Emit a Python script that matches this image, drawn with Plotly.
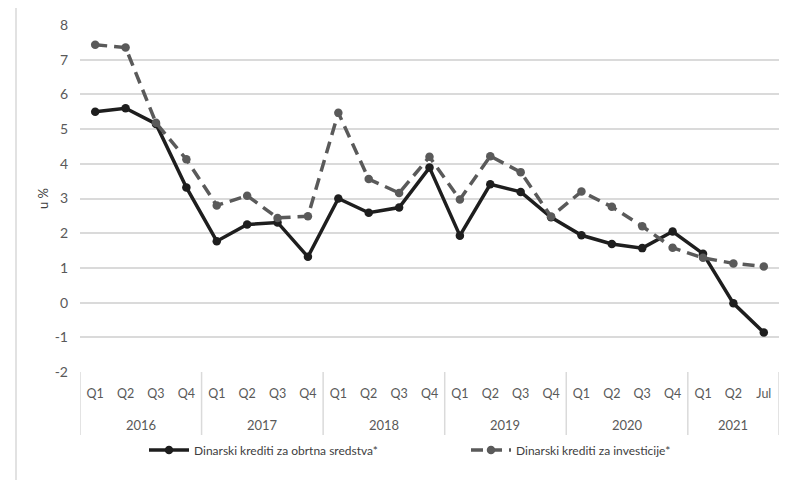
import plotly.graph_objects as go

# ---- data ----
years = ["2016", "2017", "2018", "2019", "2020", "2021"]
periods = [
    ["Q1", "Q2", "Q3", "Q4"],
    ["Q1", "Q2", "Q3", "Q4"],
    ["Q1", "Q2", "Q3", "Q4"],
    ["Q1", "Q2", "Q3", "Q4"],
    ["Q1", "Q2", "Q3", "Q4"],
    ["Q1", "Q2", "Jul"],
]
obrtna = [5.5, 5.6, 5.15, 3.32,
          1.77, 2.25, 2.31, 1.32,
          3.0, 2.59, 2.74, 3.89,
          1.93, 3.41, 3.19, 2.46,
          1.94, 1.69, 1.57, 2.05,
          1.41, -0.02, -0.86]
investicije = [7.43, 7.35, 5.18, 4.13,
               2.8, 3.08, 2.44, 2.49,
               5.47, 3.56, 3.16, 4.2,
               2.97, 4.22, 3.76, 2.48,
               3.2, 2.76, 2.2, 1.58,
               1.29, 1.13, 1.04]
name_obrtna = "Dinarski krediti za obrtna sredstva*"
name_invest = "Dinarski krediti za investicije*"
y_title = "u %"
y_tickvals = [-2, -1, 0, 1, 2, 3, 4, 5, 6, 7, 8]
y_ticktext = ["-2", "-1", "0", "1", "2", "3", "4", "5", "6", "7", "8"]

# ---- build category axis ----
cats, qlabels = [], []
for yr, ps in zip(years, periods):
    for p in ps:
        cats.append(f"{yr} {p}")
        qlabels.append(p)

FONT = "Lato, Open Sans, Liberation Sans, sans-serif"
GRID = "#dadada"
TXT = "#595959"

fig = go.Figure()
fig.add_trace(go.Scatter(
    x=cats, y=obrtna, name=name_obrtna, mode="lines+markers",
    line=dict(color="#1e1e1e", width=3.5),
    marker=dict(color="#1e1e1e", size=8.5, symbol="circle"),
    legend="legend",
))
fig.add_trace(go.Scatter(
    x=cats, y=investicije, name=name_invest, mode="lines+markers",
    line=dict(color="#5a5a5a", width=3.5, dash="12px,7px"),
    marker=dict(color="#5a5a5a", size=8.5, symbol="circle"),
    legend="legend2",
))

# page body has an 8px default margin -> figure is offset by 8px on screen
OFF = 8
W, H = 782, 472
# plot area on screen: x 80..779, y 25..372
SX0, SX1, SY0, SY1 = 80, 779, 25, 372
L, T = SX0 - OFF, SY0 - OFF
R = W - (SX1 - OFF)
B = H - (SY1 - OFF)
pw, ph = SX1 - SX0, SY1 - SY0

def py(pix):  # screen pixel y -> paper y
    return (SY1 - pix) / ph

def px(pix):  # screen pixel x -> paper x
    return (pix - SX0) / pw

shapes = []
annotations = []
start = 0
bounds = [-0.5]
for yr, ps in zip(years, periods):
    n = len(ps)
    mid = start + (n - 1) / 2
    annotations.append(dict(
        x=mid, y=py(425), xref="x", yref="paper", text=yr, showarrow=False,
        yanchor="middle", font=dict(family=FONT, size=13, color=TXT)))
    start += n
    bounds.append(start - 0.5)
for b in bounds:
    shapes.append(dict(type="line", xref="x", yref="paper", x0=b, x1=b,
                       y0=0, y1=py(435), line=dict(color=GRID, width=1.5)))

# outer frame (left and top edges visible)
shapes.append(dict(type="line", xref="paper", yref="paper",
                   x0=px(16), x1=px(16), y0=py(5), y1=py(490),
                   line=dict(color="#d9d9d9", width=1.5)))
shapes.append(dict(type="line", xref="paper", yref="paper",
                   x0=px(16), x1=px(800), y0=py(5), y1=py(5),
                   line=dict(color="#d9d9d9", width=1.5)))

legend_common = dict(
    orientation="h", xanchor="left", yanchor="middle", y=py(450),
    font=dict(family=FONT, size=12, color="#404040"),
    itemwidth=40, bgcolor="rgba(0,0,0,0)",
)

fig.update_layout(
    width=W, height=H,
    margin=dict(l=L, r=R, t=T, b=B, autoexpand=False),
    paper_bgcolor="white", plot_bgcolor="white",
    font=dict(family=FONT, color=TXT, size=13),
    showlegend=True,
    legend=dict(legend_common, x=px(144)),
    legend2=dict(legend_common, x=px(466)),
    shapes=shapes,
    annotations=annotations,
    xaxis=dict(
        type="category", categoryorder="array", categoryarray=cats,
        range=[-0.5, len(cats) - 0.5],
        tickmode="array", tickvals=cats, ticktext=qlabels,
        showgrid=False, zeroline=False, showline=False, ticks="",
        ticklabelstandoff=12, automargin=False,
        tickfont=dict(family=FONT, size=12.5, color=TXT),
        fixedrange=True,
    ),
    yaxis=dict(
        range=[-2, 8], tickmode="array", tickvals=y_tickvals, ticktext=y_ticktext,
        showgrid=True, gridcolor=GRID, gridwidth=1.8,
        zeroline=False, showline=False, ticks="",
        ticklabelstandoff=11, automargin=False,
        tickfont=dict(family=FONT, size=14, color=TXT),
        title=dict(text=y_title, standoff=3,
                   font=dict(family=FONT, size=13, color="#404040")),
        fixedrange=True,
    ),
)

fig.write_html("out.html")
